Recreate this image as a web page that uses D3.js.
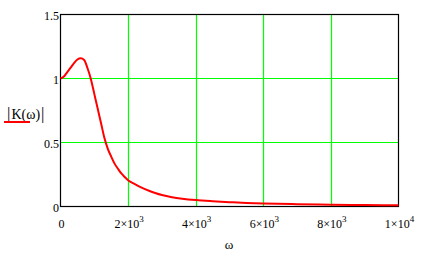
<!DOCTYPE html>
<html>
<head>
<meta charset="utf-8">
<script src="https://d3js.org/d3.v7.min.js"></script>
<style>
  body { margin: 0; background: #fff; }
  text { font-family: "Liberation Serif", "Times New Roman", serif; fill: #000; }
</style>
</head>
<body>
<svg id="chart" width="427" height="253"></svg>
<script>
// values
var omega = [0, 100, 200, 300, 400, 500, 600, 700, 800, 900, 1000, 1100, 1200, 1300, 1400, 1500,
  1600, 1700, 1800, 1900, 2000, 2200, 2400, 2600, 2800, 3000, 3300, 3600, 4000, 4500, 5000,
  5500, 6000, 7000, 8000, 9000, 10000];
var K = [1.0, 1.015, 1.05, 1.085, 1.12, 1.148, 1.158, 1.145, 1.08, 0.995, 0.88, 0.765, 0.65, 0.535, 0.45, 0.39,
  0.335, 0.295, 0.258, 0.23, 0.205, 0.175, 0.148, 0.125, 0.106, 0.09, 0.073, 0.061, 0.05, 0.041, 0.034,
  0.028, 0.024, 0.018, 0.014, 0.011, 0.009];

var xTicks = [0, 2000, 4000, 6000, 8000, 10000];
var xTickLabels = [["0", ""], ["2\u00d710", "3"], ["4\u00d710", "3"], ["6\u00d710", "3"], ["8\u00d710", "3"], ["1\u00d710", "4"]];
var yTicks = [0, 0.5, 1, 1.5];
var yTickLabels = ["0", "0.5", "1", "1.5"];

var svg = d3.select("#chart");
var pLeft = 60.5, pRight = 398.5, pTop = 14.5, pBottom = 206.5;

var x = d3.scaleLinear().domain([0, 10000]).range([pLeft, pRight]);
var y = d3.scaleLinear().domain([0, 1.5]).range([pBottom, pTop]);

// grid lines
svg.append("g")
  .selectAll("line")
  .data(xTicks.slice(1, -1))
  .enter().append("line")
  .attr("x1", d => Math.round(x(d)) + 0.5).attr("x2", d => Math.round(x(d)) + 0.5)
  .attr("y1", pTop).attr("y2", pBottom)
  .attr("stroke", "#00ff00").attr("stroke-width", 1.2);

svg.append("g")
  .selectAll("line")
  .data(yTicks.slice(1, -1))
  .enter().append("line")
  .attr("x1", pLeft).attr("x2", pRight)
  .attr("y1", d => y(d)).attr("y2", d => y(d))
  .attr("stroke", "#00ff00").attr("stroke-width", 1.2);

// frame
svg.append("rect")
  .attr("x", pLeft).attr("y", pTop)
  .attr("width", pRight - pLeft).attr("height", pBottom - pTop)
  .attr("fill", "none").attr("stroke", "#000").attr("stroke-width", 1.2);

// curve
svg.append("path")
  .datum(omega.map((w, i) => [w, K[i]]))
  .attr("fill", "none")
  .attr("stroke", "#ff0000")
  .attr("stroke-width", 2)
  .attr("d", d3.line()
    .x(d => x(d[0]))
    .y(d => y(d[1]))
    .curve(d3.curveMonotoneX));

// y tick labels
svg.append("g")
  .selectAll("text")
  .data(yTicks)
  .enter().append("text")
  .attr("x", 59)
  .attr("y", d => y(d) + 5)
  .attr("text-anchor", "end")
  .style("font-size", "12px")
  .text((d, i) => yTickLabels[i]);

// x tick labels
var xl = svg.append("g")
  .selectAll("text")
  .data(xTicks)
  .enter().append("text")
  .attr("x", d => x(d) + 1)
  .attr("y", 228)
  .attr("text-anchor", "middle")
  .style("font-size", "12px");
xl.append("tspan").text((d, i) => xTickLabels[i][0]);
xl.append("tspan")
  .attr("dy", -6)
  .style("font-size", "9px")
  .text((d, i) => xTickLabels[i][1]);

// axis titles
svg.append("text")
  .attr("x", 229).attr("y", 249)
  .attr("text-anchor", "middle")
  .style("font-size", "13px")
  .text("\u03c9");

var yt = svg.append("text")
  .attr("x", 7).attr("y", 119)
  .style("font-size", "14px");
yt.append("tspan").style("font-size", "17px").text("|");
yt.append("tspan").attr("dx", 1).text("K(\u03c9)");
yt.append("tspan").attr("dx", 1).style("font-size", "17px").text("|");

svg.append("line")
  .attr("x1", 4).attr("x2", 30)
  .attr("y1", 122).attr("y2", 122)
  .attr("stroke", "#ff0000").attr("stroke-width", 2);
</script>
</body>
</html>
